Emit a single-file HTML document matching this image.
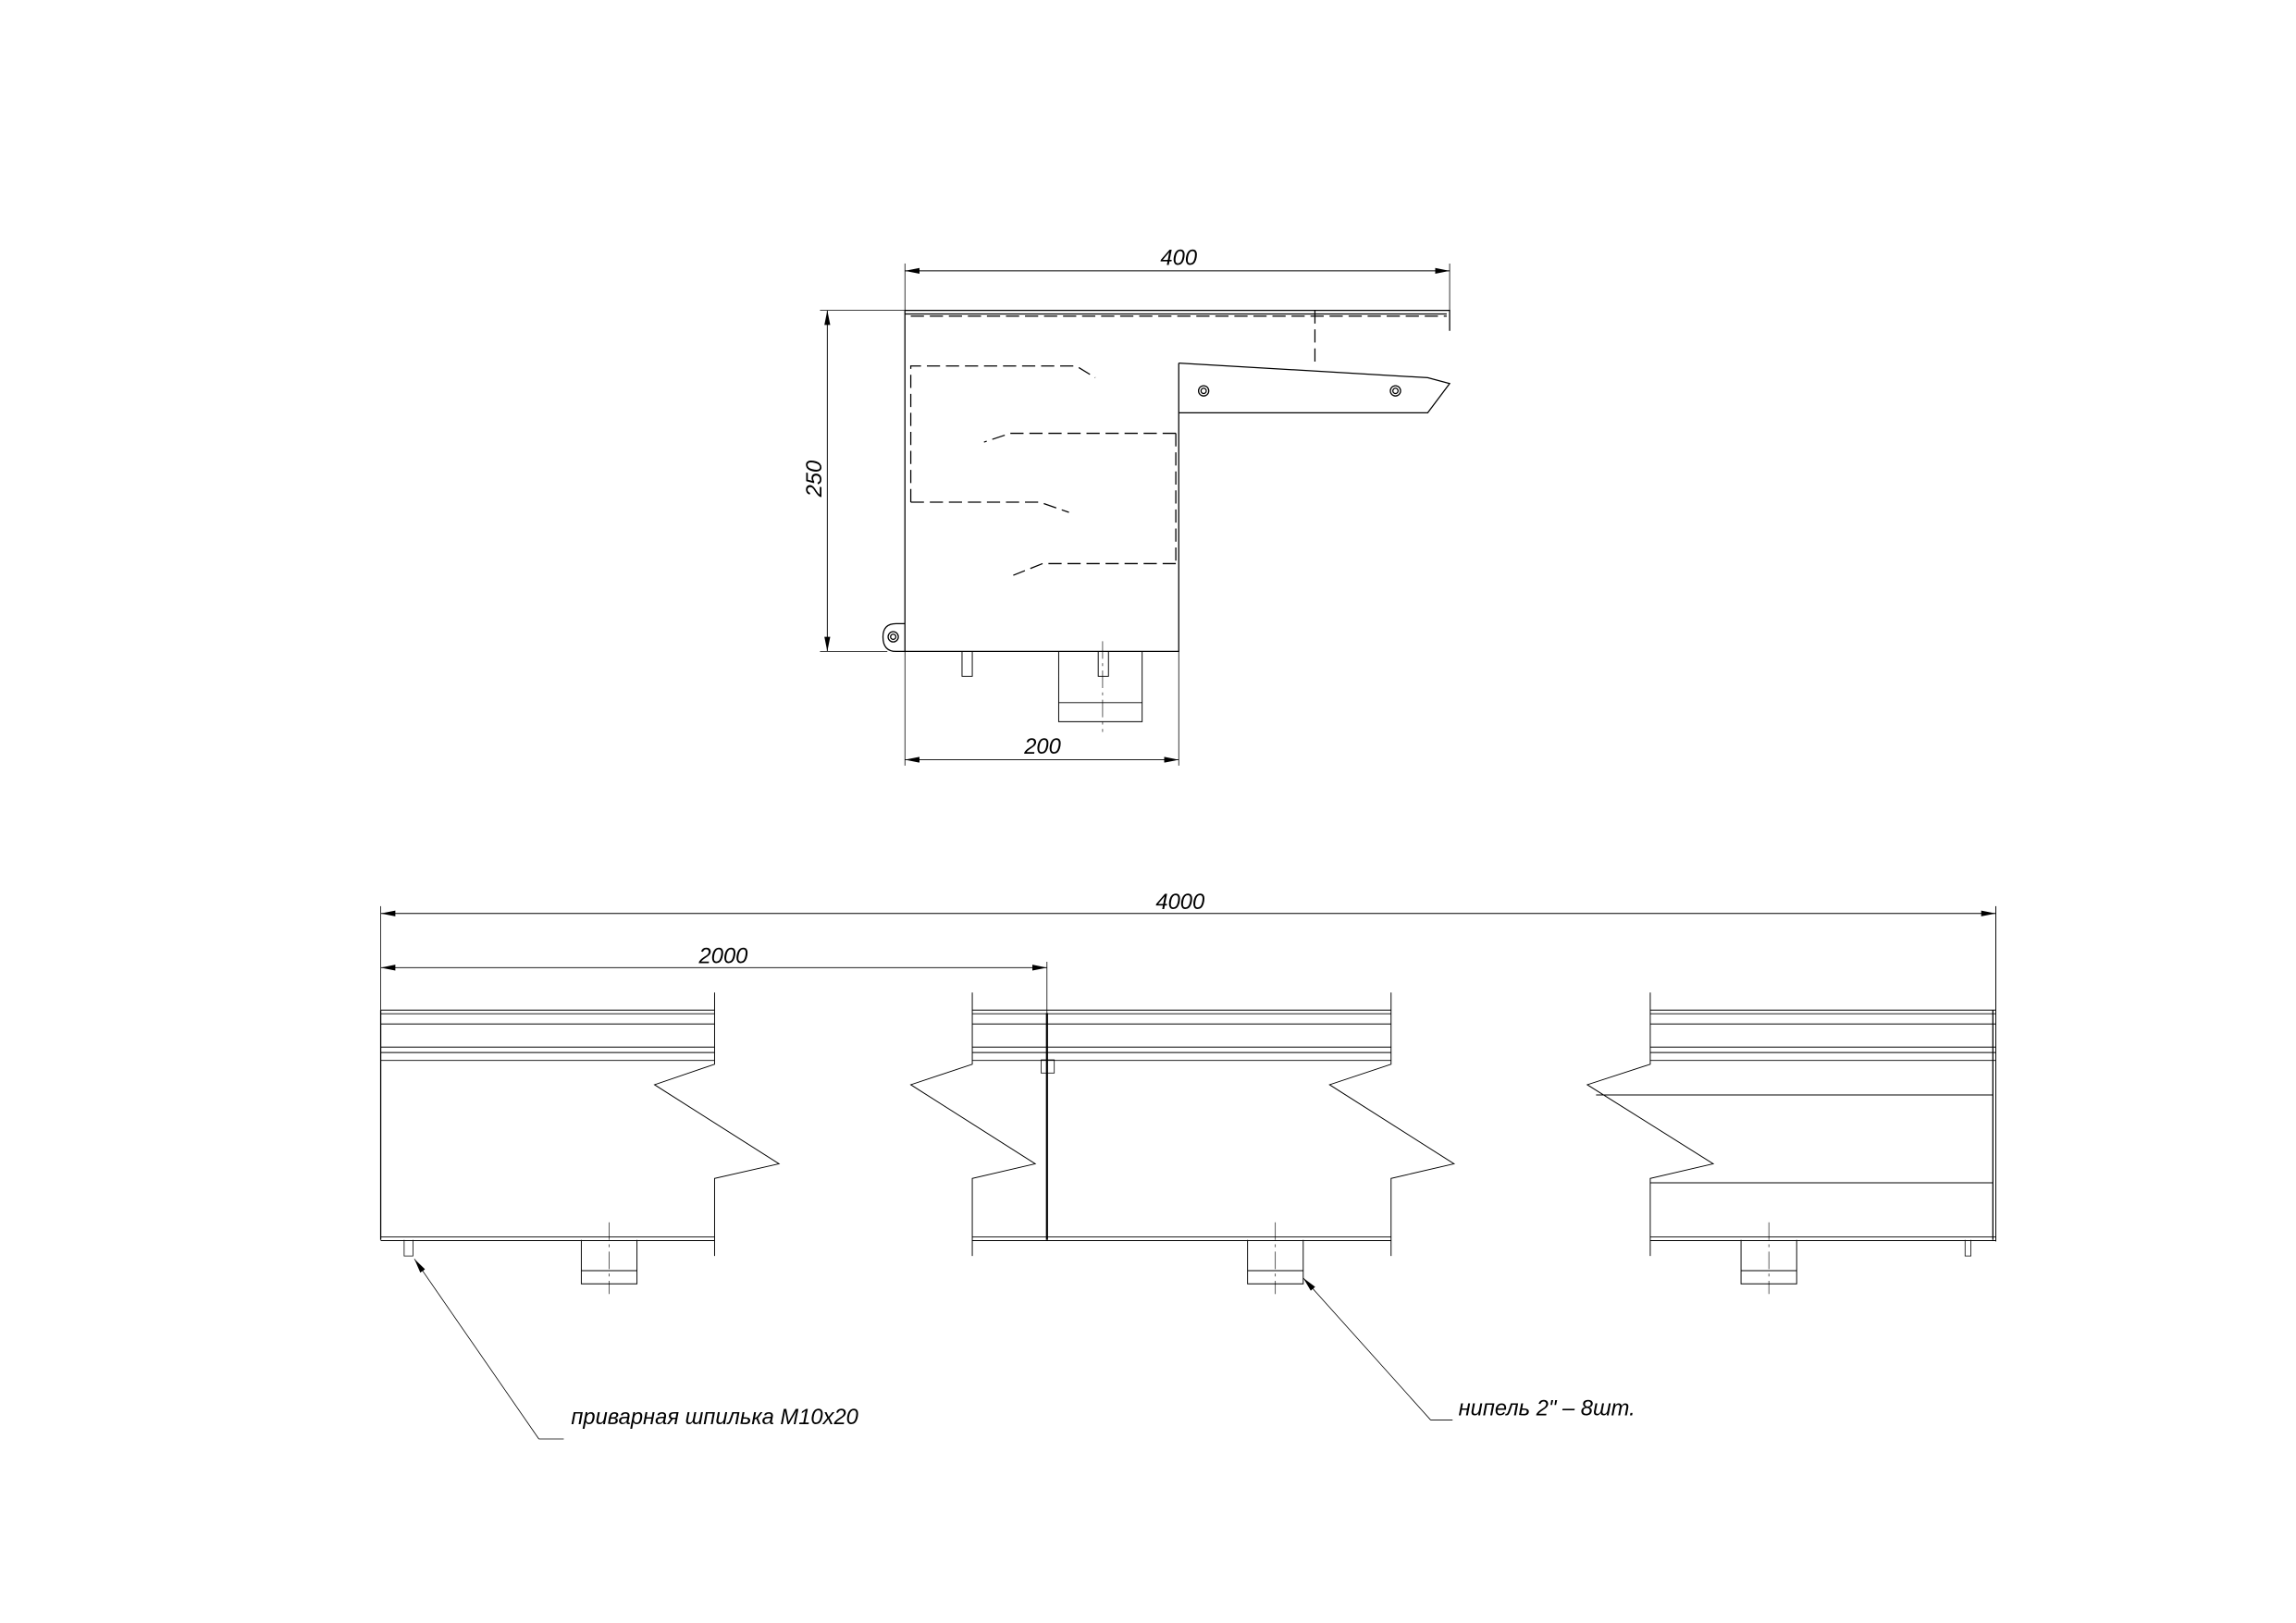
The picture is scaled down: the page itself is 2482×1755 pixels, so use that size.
<!DOCTYPE html>
<html><head><meta charset="utf-8"><style>
html,body{margin:0;padding:0;background:#fff}
svg{display:block}
text{font-family:"Liberation Sans",sans-serif;font-style:italic;fill:#000}
</style></head><body>
<svg width="2482" height="1755" viewBox="0 0 1568 1108.7" xmlns="http://www.w3.org/2000/svg">
<defs>
<marker id="a" viewBox="0 0 10 4" refX="10" refY="2" markerWidth="10" markerHeight="4" orient="auto-start-reverse" markerUnits="userSpaceOnUse"><path d="M0,0L10,2L0,4z" fill="#000"/></marker>
</defs>
<g fill="none" stroke="#000" stroke-width="0.8">
<!-- TOP VIEW -->
<line x1="618" y1="185" x2="990" y2="185" marker-start="url(#a)" marker-end="url(#a)" stroke-width="0.6"/>
<line x1="618" y1="180" x2="618" y2="212" stroke-width="0.5"/>
<line x1="990" y1="180" x2="990" y2="212" stroke-width="0.5"/>
<line x1="565" y1="212" x2="565" y2="445" marker-start="url(#a)" marker-end="url(#a)" stroke-width="0.6"/>
<line x1="560" y1="212" x2="618" y2="212" stroke-width="0.5"/>
<line x1="560" y1="445" x2="606" y2="445" stroke-width="0.5"/>
<line x1="618" y1="519" x2="805" y2="519" marker-start="url(#a)" marker-end="url(#a)" stroke-width="0.6"/>
<line x1="618" y1="445" x2="618" y2="523" stroke-width="0.5"/>
<line x1="805" y1="445" x2="805" y2="523" stroke-width="0.5"/>
<path d="M618,212H990V226M618,214.5H988M618,212V445H805V248"/>
<path d="M805,248L975,258L990,262L975,282H805"/>
<circle cx="822" cy="267" r="3.5"/><circle cx="822" cy="267" r="1.8"/>
<circle cx="953" cy="267" r="3.5"/><circle cx="953" cy="267" r="1.8"/>
<path d="M618,426H612Q603,426 603,435Q603,445 612,445H618"/>
<circle cx="610" cy="435" r="3.5"/><circle cx="610" cy="435" r="1.8"/>
<path d="M657,445V462H664V445M750,445V462H757V445M723,445V493H780V445M723,480H780" stroke-width="0.6"/>
<line x1="753" y1="438" x2="753" y2="500" stroke-width="0.4" stroke-dasharray="12 3 2 3"/>
<g stroke-dasharray="9 4" stroke-width="0.8">
<path d="M622,216H988M898,212V250"/>
<path d="M622,343V250H735L748,258"/>
<path d="M803,296H690L672,302"/>
<path d="M622,343H710L730,350"/>
<path d="M803,385H712L692,393M803,296V385"/>
</g>
<!-- BOTTOM VIEW -->
<line x1="260" y1="624" x2="1363" y2="624" marker-start="url(#a)" marker-end="url(#a)" stroke-width="0.6"/>
<line x1="260" y1="619" x2="260" y2="690" stroke-width="0.5"/>
<line x1="1363" y1="619" x2="1363" y2="848" stroke-width="0.6"/>
<line x1="260" y1="661" x2="715" y2="661" marker-start="url(#a)" marker-end="url(#a)" stroke-width="0.6"/>
<line x1="715" y1="657" x2="715" y2="692" stroke-width="0.5"/>
<!-- piece 1 -->
<path d="M260,690V847"/>
<path d="M260,690H488M260,692.5H488M260,699.5H488M260,715.3H488M260,719H488M260,724.4H488M260,845H488M260,847.5H488" stroke-width="0.6"/>
<path d="M488,678V727L447,741L532,795L488,805V858" stroke-width="0.6"/>
<!-- piece 2 -->
<path d="M664,690H950M664,692.5H950M664,699.5H950M664,715.3H950M664,719H950M664,724.4H950M664,845H950M664,847.5H950" stroke-width="0.6"/>
<path d="M664,678V727L622,741L707,795L664,805V858" stroke-width="0.6"/>
<path d="M950,678V727L908,741L993,795L950,805V858" stroke-width="0.6"/>
<path d="M715,692V847" stroke-width="1.4"/>
<rect x="711" y="724" width="9" height="9" stroke-width="0.5"/>
<!-- piece 3 -->
<path d="M1127,690H1363M1127,692.5H1363M1127,699.5H1363M1127,715.3H1363M1127,719H1363M1127,724.4H1363M1127,845H1363M1127,847.5H1363" stroke-width="0.6"/>
<path d="M1127,678V727L1084,741L1170,795L1127,805V858" stroke-width="0.6"/>
<path d="M1090,748H1361M1127,808H1361" stroke-width="0.6"/>
<path d="M1361,690V847" stroke-width="0.8"/>
<path d="M1342,847V858H1346V847" stroke-width="0.5"/>
<path d="M276,847V858H282V847" stroke-width="0.5"/>
<!-- nipples -->
<path d="M397,847V877H435V847M397,868H435M852,847V877H890V847M852,868H890M1189,847V877H1227V847M1189,868H1227" stroke-width="0.6"/>
<g stroke-width="0.4" stroke-dasharray="12 3 2 3">
<line x1="416" y1="835" x2="416" y2="884"/><line x1="871" y1="835" x2="871" y2="884"/><line x1="1208" y1="835" x2="1208" y2="884"/>
</g>
<!-- leaders -->
<path d="M368,983L283,860" stroke-width="0.5" marker-end="url(#a)"/>
<path d="M368,983H385" stroke-width="0.5"/>
<path d="M977,970L890,873" stroke-width="0.5" marker-end="url(#a)"/>
<path d="M977,970H992" stroke-width="0.5"/>
</g>
<g font-size="15">
<text x="805" y="181" text-anchor="middle">400</text>
<text x="712" y="515" text-anchor="middle">200</text>
<text transform="translate(561,327) rotate(-90)" text-anchor="middle">250</text>
<text x="806" y="621" text-anchor="middle">4000</text>
<text x="494" y="658" text-anchor="middle">2000</text>
<text x="390" y="973">приварная шпилька М10х20</text>
<text x="996" y="967">нипель 2" – 8шт.</text>
</g>
</svg>
</body></html>
